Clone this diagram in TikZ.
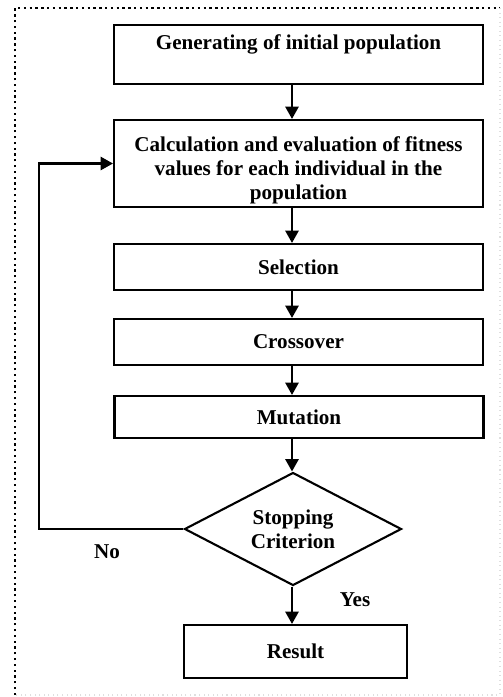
\documentclass[tikz,border=0pt]{standalone}
\usepackage{fontspec}
\setmainfont{Liberation Serif}
\usetikzlibrary{calc, arrows.meta, shapes.geometric}

\tikzset{
	stepbox/.style = {draw, line width = 1.2pt, minimum width = 7.38cm, align = center, inner sep = 0pt, font = \fontsize{12}{13.6}\selectfont\bfseries},
	decision/.style = {draw, diamond, line width = 1.2pt, minimum width = 4.34cm, minimum height = 2.26cm, aspect = 1.9, inner sep = 0pt, align = center, font = \fontsize{12}{13.6}\selectfont\bfseries},
	flow/.style = {line width = 1.2pt, -{Triangle[length = 7pt, width = 7.5pt]}},
	tag/.style = {font = \fontsize{12}{13.6}\selectfont\bfseries}
}

\begin{document}
	\begin{tikzpicture}
		\def\w{10.04};
		\def\h{13.94};
		\def\mx{5.84};
		\def\lx{0.78};

		\useasboundingbox (0,0) rectangle (\w,-\h);

		% frame
		\draw [dotted, line width = 1.3pt] (0.3,-13.9) -- (0.3,-0.16) -- (10.0,-0.16);
		\draw [dotted, line width = 0.6pt, gray!25] (10.0,-0.16) -- (10.0,-13.9) -- (0.3,-13.9);

		\coordinate (axis) at (\mx,0);

		\node [stepbox, minimum height = 1.18cm] (init) at (5.97,-1.09) {Generating of initial population\\ \mbox{}};
		\node [stepbox, minimum height = 1.74cm] (fitness) at (5.97,-3.27) {\rule{0pt}{16pt}Calculation and evaluation of fitness\\values for each individual in the\\population};
		\node [stepbox, minimum height = 0.92cm] (select) at (5.97,-5.34) {Selection};
		\node [stepbox, minimum height = 0.92cm] (cross) at (5.97,-6.84) {Crossover};
		\node [stepbox, minimum height = 0.84cm] (mutate) at (5.98,-8.34) {Mutation};
		\node [decision] (stop) at (5.86,-10.58) {Stopping\\Criterion};
		\node [stepbox, minimum width = 4.46cm, minimum height = 1.06cm] (result) at (5.91,-13.03) {Result};

		\draw [flow] (init.south -| axis) -- (fitness.north -| axis);
		\draw [flow] (fitness.south -| axis) -- (select.north -| axis);
		\draw [flow] (select.south -| axis) -- (cross.north -| axis);
		\draw [flow] (cross.south -| axis) -- (mutate.north -| axis);
		\draw [flow] (mutate.south -| axis) -- (stop.north -| axis);
		\draw [flow] (stop.south -| axis) -- (result.north -| axis);
		\draw [flow] (stop.west) -- (\lx,0 |- stop.west) -- (\lx,0 |- fitness.west) -- (fitness.west);

		\node [tag] (no) at (2.14,-11.04) {No};
		\node [tag] (yes) at (7.1,-12.0) {Yes};
	\end{tikzpicture}
\end{document}
